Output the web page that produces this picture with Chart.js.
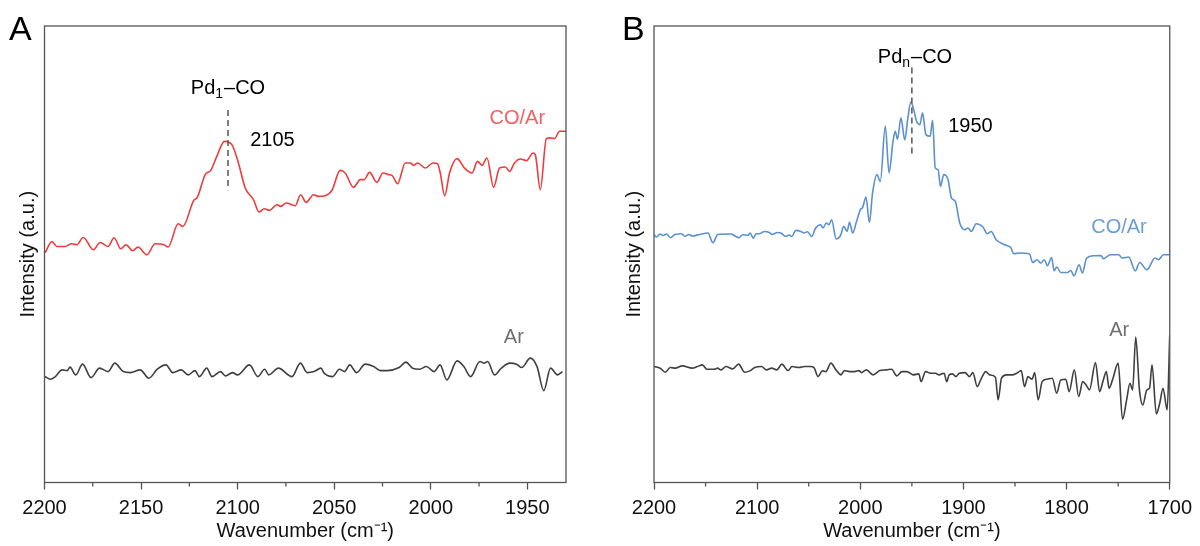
<!DOCTYPE html>
<html>
<head>
<meta charset="utf-8">
<script src="https://cdn.jsdelivr.net/npm/chart.js@4.4.0/dist/chart.umd.min.js"></script>
<style>
  html, body { margin: 0; padding: 0; background: #fff; }
  #wrap { position: relative; width: 1200px; height: 546px; }
  .panel { position: absolute; top: 0; width: 600px; height: 546px; }
</style>
</head>
<body>
<div id="wrap">
  <div class="panel" style="left:0"><canvas id="chartA" width="600" height="546"></canvas></div>
  <div class="panel" style="left:600px"><canvas id="chartB" width="600" height="546"></canvas></div>
</div>
<script>
// ---- panel A : Pd1 (2200-1930 cm-1) ----
const waveA_COAr = [2199.7, 2196.1, 2193.7, 2189.4, 2185.9, 2183.3, 2179.9, 2174.7, 2171.2, 2167.1, 2164.0, 2160.5, 2157.8, 2154.3, 2151.6, 2147.0, 2142.7, 2138.1, 2136.0, 2130.8, 2128.4, 2122.5, 2121.1, 2116.8, 2113.9, 2110.8, 2106.8, 2103.0, 2099.6, 2096.1, 2091.8, 2088.9, 2086.3, 2083.5, 2079.7, 2077.6, 2074.9, 2070.2, 2067.4, 2064.5, 2060.7, 2058.3, 2054.7, 2051.2, 2046.9, 2044.3, 2040.0, 2036.5, 2034.5, 2031.7, 2027.9, 2024.8, 2021.9, 2020.1, 2017.2, 2013.2, 2010.6, 2008.9, 2006.8, 2002.8, 1998.9, 1996.5, 1995.1, 1992.8, 1990.3, 1986.4, 1982.6, 1978.7, 1975.8, 1973.5, 1970.9, 1967.5, 1964.4, 1961.4, 1959.2, 1956.7, 1953.6, 1950.5, 1947.0, 1945.9, 1943.3, 1940.2, 1938.1, 1936.0, 1933.3, 1930.0];
const intA_COAr = [229.5, 240.8, 235.8, 235.8, 238.5, 237.5, 244.8, 232.5, 239.8, 235.8, 244.5, 233.5, 237.5, 231.5, 235.2, 227.5, 238.5, 237.5, 235.2, 258.5, 255.8, 282.5, 284.2, 307.5, 311.8, 325.8, 340.8, 337.5, 319.2, 294.2, 282.5, 270.2, 273.5, 271.8, 277.5, 275.8, 279.2, 276.5, 287.5, 279.8, 287.5, 285.8, 286.5, 291.8, 311.8, 309.2, 294.8, 302.5, 302.5, 309.8, 299.8, 309.2, 307.5, 306.8, 298.5, 319.2, 319.2, 316.8, 319.2, 314.2, 319.2, 318.5, 309.2, 286.5, 309.2, 323.5, 314.2, 309.2, 320.8, 316.8, 324.2, 294.8, 314.2, 315.2, 310.8, 319.2, 323.2, 321.5, 329.2, 327.5, 292.5, 343.2, 344.2, 343.5, 350.8, 350.8];

const waveA_Ar = [2199.7, 2197.0, 2194.4, 2190.9, 2188.2, 2186.8, 2183.8, 2180.3, 2175.9, 2171.5, 2167.1, 2163.6, 2159.2, 2155.6, 2150.4, 2146.0, 2141.6, 2137.1, 2133.6, 2129.2, 2125.6, 2122.1, 2119.8, 2116.0, 2113.3, 2108.9, 2106.3, 2102.7, 2100.1, 2093.9, 2089.5, 2086.0, 2083.9, 2078.9, 2071.9, 2067.5, 2064.0, 2060.5, 2056.9, 2055.2, 2050.8, 2047.3, 2044.6, 2042.0, 2038.4, 2034.0, 2029.6, 2026.1, 2022.6, 2016.4, 2012.9, 2009.4, 2005.8, 2002.3, 1998.2, 1995.2, 1991.7, 1986.4, 1982.9, 1979.4, 1974.6, 1972.3, 1970.6, 1967.0, 1963.5, 1959.1, 1955.6, 1952.9, 1948.5, 1945.0, 1941.5, 1938.0, 1934.4, 1931.8];
const intA_Ar = [105.8, 103.2, 105.8, 112.5, 111.8, 115.2, 107.5, 118.2, 104.8, 114.2, 110.8, 119.2, 110.8, 109.8, 112.5, 104.2, 113.2, 117.5, 109.8, 112.5, 107.5, 111.8, 105.8, 114.2, 105.8, 110.8, 106.5, 109.8, 107.5, 117.5, 105.8, 113.2, 107.5, 114.2, 105.8, 119.2, 109.8, 110.8, 114.2, 109.2, 105.8, 113.2, 110.8, 117.5, 109.8, 118.2, 115.8, 111.8, 111.8, 114.8, 120.2, 114.2, 113.2, 115.8, 110.8, 117.5, 102.5, 121.5, 115.8, 105.8, 120.8, 119.2, 120.8, 107.5, 114.2, 119.2, 118.2, 114.8, 124.2, 115.8, 91.8, 114.2, 107.5, 110.8];

// ---- panel B : Pdn (2200-1700 cm-1) ----
const waveB_COAr = [2200.0, 2197.4, 2194.2, 2191.0, 2187.8, 2183.9, 2179.8, 2173.3, 2170.1, 2166.0, 2162.7, 2155.7, 2147.7, 2142.9, 2138.1, 2125.1, 2122.0, 2117.8, 2114.0, 2109.2, 2106.8, 2103.7, 2101.1, 2097.9, 2093.1, 2088.2, 2085.6, 2080.3, 2077.0, 2072.2, 2069.0, 2066.4, 2062.5, 2057.7, 2054.5, 2051.3, 2047.1, 2043.3, 2038.4, 2036.2, 2033.0, 2030.4, 2027.8, 2023.4, 2019.2, 2016.0, 2012.8, 2010.5, 2007.3, 2004.1, 1999.9, 1997.7, 1994.5, 1991.2, 1988.1, 1983.9, 1980.6, 1975.8, 1972.1, 1968.5, 1966.2, 1963.9, 1960.6, 1956.9, 1953.9, 1951.0, 1948.0, 1945.5, 1942.2, 1939.7, 1936.4, 1932.3, 1929.9, 1927.4, 1924.6, 1922.3, 1919.1, 1914.9, 1911.7, 1907.9, 1903.6, 1898.8, 1895.6, 1892.4, 1887.6, 1881.1, 1877.0, 1873.1, 1868.3, 1860.2, 1853.9, 1851.3, 1845.8, 1836.1, 1832.9, 1828.8, 1824.9, 1821.7, 1818.5, 1814.6, 1812.1, 1809.5, 1805.7, 1799.2, 1796.0, 1792.8, 1787.9, 1784.7, 1780.6, 1773.5, 1766.5, 1764.5, 1757.5, 1749.4, 1746.2, 1739.8, 1733.4, 1729.2, 1722.2, 1714.2, 1710.9, 1706.1, 1700.5];
const intB_COAr = [247.5, 245.2, 248.2, 246.8, 248.2, 244.5, 247.8, 248.5, 245.8, 247.8, 246.2, 247.8, 249.2, 239.5, 247.8, 248.2, 246.5, 244.5, 247.5, 246.8, 249.2, 243.8, 248.5, 248.5, 250.8, 249.8, 247.8, 249.8, 249.2, 245.8, 247.2, 245.8, 251.8, 250.8, 249.2, 250.5, 245.8, 254.2, 257.5, 254.2, 259.2, 257.5, 262.5, 243.2, 246.5, 255.8, 250.8, 259.8, 249.2, 259.2, 272.5, 274.8, 285.2, 259.8, 289.2, 307.5, 300.8, 356.0, 309.2, 339.2, 350.8, 343.0, 364.2, 342.2, 364.2, 380.0, 371.5, 360.8, 357.5, 369.2, 347.5, 345.8, 361.8, 314.2, 312.5, 295.8, 307.5, 302.5, 284.2, 280.8, 259.2, 252.5, 254.2, 250.8, 258.5, 255.2, 248.5, 250.8, 242.5, 237.5, 234.2, 228.5, 229.2, 228.5, 219.8, 222.5, 219.2, 222.5, 216.5, 224.8, 211.5, 215.2, 209.8, 209.8, 211.8, 206.5, 217.5, 209.2, 224.2, 226.5, 226.8, 223.5, 227.5, 227.5, 224.2, 225.2, 211.5, 219.8, 212.5, 224.2, 222.5, 227.5, 227.5];

const waveB_Ar = [2199.9, 2194.0, 2189.1, 2184.2, 2179.3, 2172.7, 2162.9, 2158.0, 2153.1, 2148.8, 2141.6, 2138.3, 2135.1, 2130.2, 2123.6, 2118.0, 2112.2, 2107.2, 2102.3, 2095.8, 2090.9, 2085.9, 2080.9, 2076.0, 2070.1, 2066.2, 2059.6, 2053.8, 2048.2, 2044.9, 2041.0, 2036.7, 2033.4, 2028.5, 2023.6, 2018.7, 2015.4, 2010.5, 2005.6, 2001.3, 1999.0, 1994.1, 1987.6, 1981.0, 1974.5, 1969.6, 1964.6, 1959.7, 1954.8, 1948.9, 1943.4, 1941.0, 1936.8, 1931.9, 1927.0, 1923.7, 1918.8, 1916.2, 1913.9, 1910.6, 1907.3, 1904.0, 1898.5, 1894.2, 1890.9, 1886.6, 1883.3, 1878.4, 1874.6, 1869.0, 1866.4, 1863.1, 1858.2, 1852.6, 1848.4, 1844.0, 1840.8, 1837.5, 1833.5, 1830.9, 1827.6, 1823.7, 1818.8, 1813.9, 1809.6, 1805.7, 1800.8, 1797.5, 1792.5, 1788.3, 1784.4, 1781.1, 1777.8, 1772.0, 1768.0, 1764.8, 1761.5, 1758.8, 1755.5, 1750.0, 1745.8, 1741.8, 1738.6, 1736.0, 1733.0, 1729.4, 1726.1, 1722.2, 1719.6, 1717.2, 1713.0, 1709.7, 1706.5, 1702.5, 1700.0];
const intB_Ar = [115.8, 114.2, 110.2, 114.8, 114.2, 116.5, 114.2, 115.8, 117.5, 113.2, 113.2, 114.2, 112.5, 115.8, 113.5, 118.2, 110.2, 111.5, 114.8, 115.8, 112.5, 114.2, 112.5, 118.2, 111.8, 115.8, 114.8, 115.8, 115.8, 114.8, 105.8, 111.5, 110.8, 119.2, 112.5, 107.5, 111.8, 110.8, 110.8, 111.8, 109.8, 112.5, 107.5, 111.8, 112.5, 113.2, 106.5, 110.8, 110.8, 107.5, 108.5, 100.8, 110.8, 109.2, 109.2, 107.5, 109.2, 100.8, 107.5, 108.5, 105.8, 109.2, 109.8, 105.8, 109.8, 95.8, 102.5, 110.8, 107.5, 105.2, 82.5, 104.2, 107.5, 107.5, 109.2, 111.8, 95.8, 105.8, 103.2, 109.8, 82.5, 100.8, 103.2, 104.2, 89.2, 102.5, 103.2, 90.8, 112.5, 85.8, 100.8, 97.5, 92.5, 119.8, 90.8, 100.8, 110.8, 94.2, 102.5, 119.2, 63.2, 82.5, 99.2, 92.5, 145.2, 92.5, 77.5, 92.5, 94.2, 117.5, 68.5, 79.2, 94.2, 72.5, 147.5];

// axis ticks
const ticksA_major = [2200, 2150, 2100, 2050, 2000, 1950];
const ticksA_minor = [2175, 2125, 2075, 2025, 1975];
const ticksB_major = [2200, 2100, 2000, 1900, 1800, 1700];
const ticksB_minor = [2150, 2050, 1950, 1850, 1750];

const FONT = "'Liberation Sans', Arial, Helvetica, sans-serif";
const AXIS_COLOR = '#555555';
Chart.defaults.font.family = FONT;
Chart.defaults.color = '#111';

function toPoints(xs, ys) {
    return xs.map((x, i) => ({ x: x, y: ys[i] }));
}

// frame, minor ticks, labels and markers
const decorPlugin = {
    id: 'decor',
    afterDraw(chart, args, opts) {
        const ctx = chart.ctx;
        const area = chart.chartArea;
        const xs = chart.scales.x;
        const ys = chart.scales.y;
        ctx.save();

        ctx.strokeStyle = AXIS_COLOR;
        ctx.lineWidth = 1.3;
        ctx.strokeRect(area.left, area.top, area.right - area.left, area.bottom - area.top);

        ctx.beginPath();
        for (const v of opts.minor) {
            const px = xs.getPixelForValue(v);
            ctx.moveTo(px, area.bottom);
            ctx.lineTo(px, area.bottom + 4);
        }
        ctx.stroke();

        // dashed marker line
        const mx = xs.getPixelForValue(opts.marker.x);
        ctx.setLineDash([6, 4]);
        ctx.lineWidth = 1.5;
        ctx.strokeStyle = '#555';
        ctx.beginPath();
        ctx.moveTo(mx, ys.getPixelForValue(opts.marker.y1));
        ctx.lineTo(mx, ys.getPixelForValue(opts.marker.y2));
        ctx.stroke();
        ctx.setLineDash([]);

        // Pd_x–CO label with subscript
        const p = opts.species;
        const big = '20px ' + FONT;
        const small = '14px ' + FONT;
        ctx.font = big;
        const w1 = ctx.measureText('Pd').width;
        const w3 = ctx.measureText('–CO').width;
        ctx.font = small;
        const w2 = ctx.measureText(p.sub).width + 1;
        let sx = xs.getPixelForValue(p.x) - (w1 + w2 + w3) / 2;
        const sy = ys.getPixelForValue(p.y);
        ctx.fillStyle = '#000';
        ctx.textBaseline = 'middle';
        ctx.textAlign = 'left';
        ctx.font = big;
        ctx.fillText('Pd', sx, sy);
        ctx.font = small;
        ctx.fillText(p.sub, sx + w1, sy + 6);
        ctx.font = big;
        ctx.fillText('–CO', sx + w1 + w2, sy);

        for (const t of opts.texts) {
            ctx.font = '20px ' + FONT;
            ctx.fillStyle = t.color;
            ctx.textAlign = t.align;
            ctx.fillText(t.text, xs.getPixelForValue(t.x), ys.getPixelForValue(t.y));
        }

        // panel letter
        ctx.font = '34px ' + FONT;
        ctx.fillStyle = '#000';
        ctx.textAlign = 'left';
        ctx.textBaseline = 'alphabetic';
        ctx.fillText(opts.letter.text, opts.letter.left, 40);
        ctx.restore();
    }
};

function makeChart(canvasId, cfg) {
    return new Chart(document.getElementById(canvasId), {
        type: 'line',
        data: {
            datasets: [
                {
                    label: 'CO/Ar',
                    data: toPoints(cfg.coWave, cfg.coInt),
                    borderColor: cfg.coColor,
                    borderWidth: 1.6,
                    pointRadius: 0,
                    cubicInterpolationMode: 'monotone'
                },
                {
                    label: 'Ar',
                    data: toPoints(cfg.arWave, cfg.arInt),
                    borderColor: '#404040',
                    borderWidth: 1.6,
                    pointRadius: 0,
                    cubicInterpolationMode: 'monotone'
                }
            ]
        },
        options: {
            responsive: false,
            animation: false,
            events: [],
            layout: { padding: cfg.padding },
            scales: {
                x: {
                    type: 'linear',
                    reverse: true,
                    min: cfg.xMin,
                    max: 2200,
                    afterBuildTicks: (scale) => {
                        scale.ticks = cfg.major.map(v => ({ value: v }));
                    },
                    afterFit: (scale) => { scale.height = 63.5; },
                    grid: {
                        display: true,
                        drawOnChartArea: false,
                        tickLength: 7,
                        tickColor: AXIS_COLOR,
                        tickWidth: 1.3
                    },
                    border: { display: false },
                    ticks: {
                        font: { size: 20, lineHeight: 1.1 },
                        color: '#111',
                        padding: 8,
                        maxRotation: 0,
                        autoSkip: false,
                        callback: (v) => String(v)
                    },
                    title: {
                        display: true,
                        text: 'Wavenumber (cm⁻¹)',
                        font: { size: 20, lineHeight: 1.0 },
                        color: '#111',
                        padding: { top: 0, bottom: 5 }
                    }
                },
                y: {
                    min: 0,
                    max: 456,
                    afterFit: (scale) => { scale.width = 32; },
                    grid: { display: false },
                    border: { display: false },
                    ticks: { display: false },
                    title: {
                        display: true,
                        text: 'Intensity (a.u.)',
                        font: { size: 20 },
                        color: '#111',
                        padding: { top: cfg.yTitlePad, bottom: 0 }
                    }
                }
            },
            plugins: {
                legend: { display: false },
                tooltip: { enabled: false },
                decor: {
                    minor: cfg.minor,
                    marker: cfg.marker,
                    species: cfg.species,
                    texts: cfg.texts,
                    letter: cfg.letter
                }
            }
        },
        plugins: [decorPlugin]
    });
}

makeChart('chartA', {
    coWave: waveA_COAr, coInt: intA_COAr, coColor: '#ee3b3b',
    arWave: waveA_Ar, arInt: intA_Ar,
    xMin: 1930,
    major: ticksA_major, minor: ticksA_minor,
    padding: { left: 12.5, right: 34, top: 26, bottom: 0 },
    yTitlePad: 4,
    marker: { x: 2105, y1: 372, y2: 292 },
    species: { x: 2105, y: 394, sub: '1' },
    texts: [
        { text: '2105', x: 2093.5, y: 341.5, color: '#000', align: 'left' },
        { text: 'CO/Ar', x: 1955.2, y: 363.5, color: '#f36262', align: 'center' },
        { text: 'Ar', x: 1957, y: 144.5, color: '#707070', align: 'center' }
    ],
    letter: { text: 'A', left: 9 }
});

makeChart('chartB', {
    coWave: waveB_COAr, coInt: intB_COAr, coColor: '#5b91cc',
    arWave: waveB_Ar, arInt: intB_Ar,
    xMin: 1700,
    major: ticksB_major, minor: ticksB_minor,
    padding: { left: 22, right: 27, top: 26, bottom: 0 },
    yTitlePad: 0,
    marker: { x: 1950, y1: 414.5, y2: 325.5 },
    species: { x: 1947, y: 424.5, sub: 'n' },
    texts: [
        { text: '1950', x: 1914.8, y: 355.5, color: '#000', align: 'left' },
        { text: 'CO/Ar', x: 1749.2, y: 254.5, color: '#6a9fd6', align: 'center' },
        { text: 'Ar', x: 1749, y: 151.5, color: '#707070', align: 'center' }
    ],
    letter: { text: 'B', left: 22 }
});
</script>
</body>
</html>
